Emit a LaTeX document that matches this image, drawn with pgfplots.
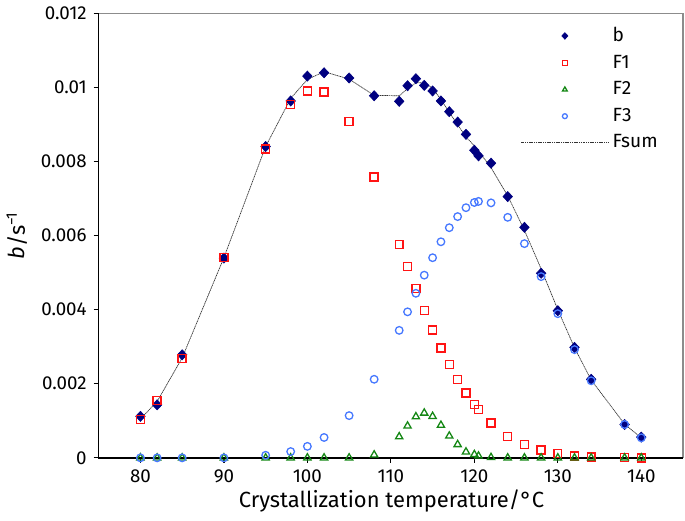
\documentclass[border=0pt]{standalone}
\usepackage{fontspec}
\setmainfont{Fira Sans}
\usepackage{pgfplots}
\pgfplotsset{compat=1.18}

\definecolor{bnavy}{RGB}{0,0,128}
\definecolor{fred}{RGB}{255,20,20}
\definecolor{fgreen}{RGB}{20,135,20}
\definecolor{fblue}{RGB}{70,120,255}

\begin{document}
\begin{tikzpicture}
    \begin{axis}[
            scale only axis,
            width=293pt,
            height=223pt,
            xmin=75, xmax=145,
            ymin=0, ymax=0.012,
            clip=false,
            xtick={80,90,100,110,120,130,140},
            ytick={0,0.002,0.004,0.006,0.008,0.01,0.012},
            yticklabels={0,0.002,0.004,0.006,0.008,0.01,0.012},
            scaled y ticks=false,
            /pgf/number format/assume math mode=true,
            xtick pos=bottom,
            ytick pos=left,
            tick align=outside,
            major tick length=2.5pt,
            axis line style={black!45, line width=0.6pt},
            tick style={black, line width=0.6pt},
            ticklabel style={font=\fontsize{9.4}{11}\selectfont},
            xlabel={Crystallization temperature/°C},
            ylabel={\textit{b}/s\textsuperscript{−1}},
            label style={font=\fontsize{11}{13}\selectfont},
            xlabel style={at={(axis description cs:0.501,-0.0964)}, anchor=center},
            ylabel style={at={(axis description cs:-0.14,0.5)}, anchor=center},
            legend cell align=left,
            legend style={
                    draw=none, fill=none,
                    font=\fontsize{9.6}{11}\selectfont,
                    at={(0.712,0.987)}, anchor=north west,
                    row sep=1.2pt,
                },
            legend image code/.code={
                    \draw[mark repeat=2, mark phase=2, #1, /tikz/every mark/.append style={scale=0.65}]
                    plot coordinates {(0cm,0cm) (0.765cm,0cm) (1.53cm,0cm)};
                },
        ]

        % b
        \addplot[bnavy, only marks, mark=diamond*, mark size=2.55pt,
            mark options={fill=bnavy, draw=bnavy, xscale=1.25, line width=0.3pt}]
        coordinates {
                (80, 0.00112) (82, 0.00143) (85, 0.00278) (90, 0.00539)
                (95, 0.00840) (98, 0.00963) (100, 0.01030) (102, 0.01039)
                (105, 0.01025) (108, 0.00977) (111, 0.00962) (112, 0.01004)
                (113, 0.01023) (114, 0.01005) (115, 0.00990) (116, 0.00963)
                (117, 0.00934) (118, 0.00906) (119, 0.00873) (120, 0.00830)
                (120.5, 0.00815) (122, 0.00795) (124, 0.00705) (126, 0.00622)
                (128, 0.00498) (130, 0.00397) (132, 0.00298) (134, 0.00212)
                (138, 0.00090) (140, 0.00056)
            };

        % F1
        \addplot[fred, only marks, mark=square, mark size=2pt,
            mark options={draw=fred, fill=none, line width=0.7pt}]
        coordinates {
                (80, 0.00103) (82, 0.00155) (85, 0.00268) (90, 0.00540)
                (95, 0.00833) (98, 0.00953) (100, 0.00990) (102, 0.00987)
                (105, 0.00907) (108, 0.00758) (111, 0.00576) (112, 0.00516)
                (113, 0.00457) (114, 0.00398) (115, 0.00345) (116, 0.00296)
                (117, 0.00252) (118, 0.00212) (119, 0.00175) (120, 0.00144)
                (120.5, 0.00131) (122, 0.00094) (124, 0.00058) (126, 0.00036)
                (128, 0.00021) (130, 0.00011) (132, 0.00005) (134, 0.00002)
                (138, 0.00001) (140, 0.0)
            };

        % F2
        \addplot[fgreen, only marks, mark=triangle, mark size=2.1pt,
            mark options={draw=fgreen, fill=none, line width=0.65pt}]
        coordinates {
                (80, 0) (82, 0) (85, 0) (90, 0) (95, 0) (98, 0) (100, 0)
                (102, 0) (105, 0) (108, 0.00008) (111, 0.00057) (112, 0.00086)
                (113, 0.00111) (114, 0.00121) (115, 0.00112) (116, 0.00088)
                (117, 0.00059) (118, 0.00036) (119, 0.00016) (120, 0.00009)
                (120.5, 0.00005) (122, 0.00001) (124, 0) (126, 0) (128, 0)
                (130, 0) (132, 0) (134, 0) (138, 0) (140, 0)
            };

        % F3
        \addplot[fblue, only marks, mark=o, mark size=1.9pt,
            mark options={draw=fblue, fill=none, line width=0.65pt}]
        coordinates {
                (80, 0) (82, 0) (85, 0) (90, 0) (95, 0.00007) (98, 0.00017)
                (100, 0.00031) (102, 0.00055) (105, 0.00114) (108, 0.00212)
                (111, 0.00344) (112, 0.00394) (113, 0.00444) (114, 0.00493)
                (115, 0.00540) (116, 0.00583) (117, 0.00621) (118, 0.00651)
                (119, 0.00675) (120, 0.00689) (120.5, 0.00692) (122, 0.00688)
                (124, 0.00649) (126, 0.00578) (128, 0.00489) (130, 0.00389)
                (132, 0.00292) (134, 0.00208) (138, 0.00090) (140, 0.00054)
            };

        % Fsum
        \addplot[black!80, line width=0.35pt, dash pattern=on 0.6pt off 0.3pt, mark=none]
        coordinates {
                (80, 0.00105) (82, 0.00152) (85, 0.00270) (90, 0.00540)
                (95, 0.00840) (98, 0.00970) (100, 0.01021) (102, 0.01042)
                (105, 0.01022) (108, 0.00978) (111, 0.00977) (112, 0.00996)
                (113, 0.01012) (114, 0.01012) (115, 0.00997) (116, 0.00967)
                (117, 0.00932) (118, 0.00899) (119, 0.00866) (120, 0.00842)
                (120.5, 0.00828) (122, 0.00783) (124, 0.00707) (126, 0.00614)
                (128, 0.00510) (130, 0.00400) (132, 0.00297) (134, 0.00210)
                (138, 0.00091) (140, 0.00054)
            };

        \legend{b, F1, F2, F3, Fsum}

        \draw[black, line width=0.8pt] (rel axis cs:0,1) -- (rel axis cs:0,0) -- (rel axis cs:1,0);
        \path (rel axis cs:-0.1655,-0.1413) rectangle (rel axis cs:1.0034,1.0179);
    \end{axis}
\end{tikzpicture}
\end{document}
